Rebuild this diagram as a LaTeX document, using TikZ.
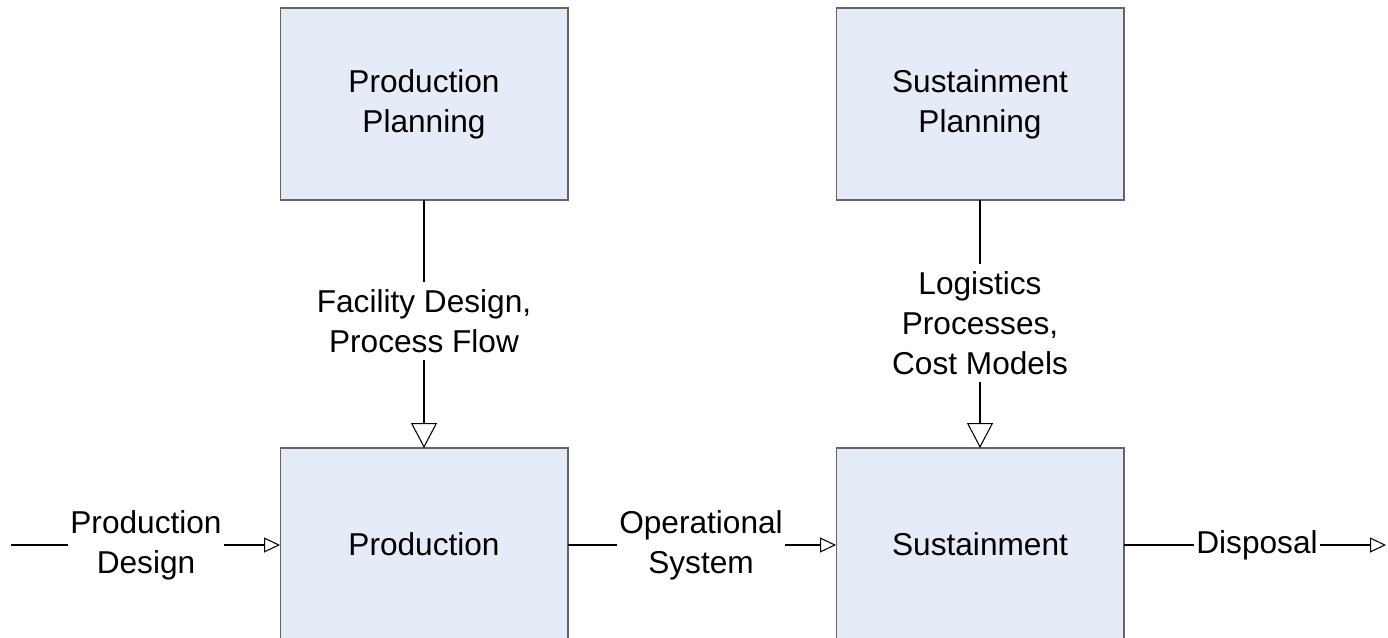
\documentclass[tikz,border=0pt]{standalone}
\usepackage{fontspec}
\setmainfont{Liberation Sans}
\usepackage{tikz}
\usetikzlibrary{arrows.meta,positioning}
\definecolor{boxfill}{RGB}{230,236,247}
\definecolor{boxline}{RGB}{100,100,100}

\begin{document}
\begin{tikzpicture}[
  x=0.02cm, y=-0.02cm,
  font=\fontsize{18}{22.7}\selectfont,
  blk/.style={draw=boxline, line width=0.6pt, fill=boxfill, align=center, minimum width=5.76cm, minimum height=3.84cm, outer sep=0pt},
  lbl/.style={align=center, inner xsep=1pt, inner ysep=4pt},
  bigarr/.style={-{Triangle[open, length=0.5cm, width=0.52cm]}, line width=0.6pt},
  smallarr/.style={-{Triangle[open, length=0.32cm, width=0.3cm]}, line width=0.6pt},
  plain/.style={line width=0.6pt}]
  \useasboundingbox (0,0) rectangle (1388,638);
  \clip (0,0) rectangle (1388,638);
  % boxes
  \node[blk] (pp) at (424,104) {Production\\Planning};
  \node[blk] (sp) at (980,104) {Sustainment\\Planning};
  \node[blk] (prod) at (424,544) {Production};
  \node[blk] (sust) at (980,544) {Sustainment};
  % vertical flows
  \node[lbl] (fd) at (424,321) {Facility Design,\\Process Flow};
  \draw[plain] (pp) -- (fd);
  \draw[bigarr] (fd) -- (prod);
  \node[lbl] (lp) at (980,323) {Logistics\\Processes,\\Cost Models};
  \draw[plain] (sp) -- (lp);
  \draw[bigarr] (lp) -- (sust);
  % horizontal flows
  \coordinate (in) at (11,545);
  \coordinate (out) at (1386,545);
  \node[lbl] (pd) at (146,545) {Production\\Design};
  \draw[plain] (in) -- (pd);
  \draw[smallarr] (pd) -- (prod.west |- pd);
  \node[lbl] (os) at (701,545) {Operational\\System};
  \draw[plain] (prod.east |- os) -- (os);
  \draw[smallarr] (os) -- (sust.west |- os);
  \node[lbl] (dp) at (1257,545) {Disposal};
  \draw[plain] (sust.east |- dp) -- (dp);
  \draw[smallarr] (dp) -- (out);
\end{tikzpicture}
\end{document}
